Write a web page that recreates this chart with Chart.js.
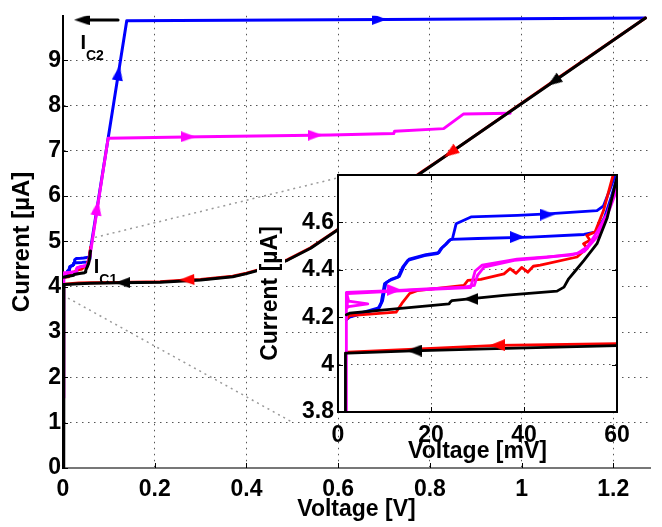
<!DOCTYPE html>
<html>
<head>
<meta charset="utf-8">
<script src="https://cdn.jsdelivr.net/npm/chart.js@4"></script>
<style>
  body { margin: 0; background: #fff; }
  #wrap { position: relative; width: 662px; height: 527px; }
  #main { position: absolute; left: 0; top: 0; }
  #inset { position: absolute; left: 240px; top: 150px; }
</style>
</head>
<body>
<div id="wrap">
  <canvas id="main" width="662" height="527"></canvas>
  <canvas id="inset" width="410" height="330"></canvas>
</div>
<script>
//---------------------------------- donnees

// graduations
const mainXTicks = [0, 0.2, 0.4, 0.6, 0.8, 1, 1.2];   // V
const mainYTicks = [0, 1, 2, 3, 4, 5, 6, 7, 8, 9];     // uA
const insetXTicks = [0, 20, 40, 60];                    // mV
const insetYTicks = [3.8, 4, 4.2, 4.4, 4.6];            // uA

// traces basse tension (mV / uA), visibles dans l'encart
const blueAmV = [1.8, 2.5, 8.6, 9.3, 10, 11.1, 12.9, 13.9, 15, 18.6, 21.4, 22.1, 22.9, 23.9, 24.6, 25.4, 28.6, 38.6, 45, 55.7, 57.1, 58.5, 60];
const blueAuA = [4.19, 4.2, 4.235, 4.263, 4.341, 4.355, 4.369, 4.411, 4.44, 4.46, 4.468, 4.489, 4.503, 4.524, 4.53, 4.594, 4.623, 4.63, 4.636, 4.65, 4.67, 4.74, 4.82];
const blueBmV = [1.8, 2.5, 8.9, 9.6, 10.3, 11.4, 13.2, 14.2, 15.3, 18.9, 21.7, 22.4, 23.2, 24.2, 30, 41.4, 52.9, 55.5, 57.3, 58.8, 60];
const blueBuA = [4.19, 4.205, 4.24, 4.27, 4.345, 4.36, 4.372, 4.415, 4.445, 4.464, 4.472, 4.493, 4.507, 4.528, 4.532, 4.538, 4.549, 4.56, 4.62, 4.71, 4.79];
const magAmV = [1.8, 1.8, 12.9, 20, 27.1, 29.3, 30, 31.4, 37.9, 45, 51.4, 53.6, 55.7, 57.9, 60];
const magAuA = [1.55, 4.305, 4.313, 4.32, 4.327, 4.334, 4.376, 4.411, 4.44, 4.453, 4.468, 4.496, 4.559, 4.637, 4.763];
const magBmV = [2.0, 2.3, 6.4, 2.3, 2.0, 2.0, 20, 28.5, 29.5, 31, 38.5, 50, 53, 56, 58.5, 60];
const magBuA = [4.29, 4.268, 4.256, 4.245, 4.24, 4.30, 4.318, 4.325, 4.395, 4.42, 4.445, 4.462, 4.478, 4.545, 4.66, 4.74];
const redUpmV = [1.8, 2.5, 12.5, 13.9, 15.4, 17, 27.1, 27.9, 30.7, 35.7, 37, 38.3, 39.5, 40.8, 42, 43.5, 51.4, 52.3, 53.6, 52.8, 54.2, 53.5, 55.3, 57.1, 59.3, 60];
const redUpuA = [4.19, 4.207, 4.221, 4.263, 4.30, 4.312, 4.334, 4.355, 4.36, 4.383, 4.405, 4.385, 4.41, 4.39, 4.415, 4.42, 4.454, 4.47, 4.49, 4.51, 4.525, 4.545, 4.56, 4.65, 4.81, 4.87];
const blkUpmV = [1.8, 2.5, 23.9, 24.1, 24.5, 35.7, 47.1, 48.6, 49.6, 51.1, 52.9, 55.7, 57.9, 60];
const blkUpuA = [4.21, 4.217, 4.256, 4.263, 4.27, 4.292, 4.31, 4.327, 4.362, 4.397, 4.44, 4.51, 4.62, 4.79];
const blkLomV = [60, 34, 16, 2.1, 1.6, 1.6];
const blkLouA = [4.080, 4.067, 4.058, 4.048, 4.048, 0];
const redLomV = [60, 34.3, 2.1, 1.7];
const redLouA = [4.088, 4.081, 4.053, 4.05];

// traces haute tension (V / uA)
const blueHiV = [0.139, 0.70, 1.27];
const blueHiuA = [9.87, 9.90, 9.93];
const magHiV = [0.0985, 0.30, 0.583, 0.721, 0.723, 0.83, 0.873, 0.975];
const magHiuA = [7.28, 7.31, 7.35, 7.38, 7.43, 7.49, 7.81, 7.83];
const blkRetV = [1.27, 1.07, 0.786, 0.597, 0.54, 0.49, 0.45, 0.40, 0.37, 0.30, 0.212, 0.12];
const blkRetuA = [9.93, 8.53, 6.55, 5.24, 4.85, 4.59, 4.43, 4.29, 4.22, 4.15, 4.10, 4.09];
const redRetV = [1.27, 1.07, 0.845, 0.786, 0.597, 0.54, 0.49, 0.45, 0.40, 0.37, 0.30, 0.27, 0.212, 0.12];
const redRetuA = [9.93, 8.54, 6.96, 6.56, 5.25, 4.86, 4.60, 4.44, 4.30, 4.23, 4.16, 4.15, 4.11, 4.095];

// fleches de sens de balayage
const arrowMainX = [0.121, 0.0744, 0.69, 0.273, 0.55, 1.07, 0.845, 0.13, 0.27];
const arrowMainY = [8.72, 5.74, 9.90, 7.31, 7.345, 8.53, 6.96, 4.09, 4.155];
const arrowMainRot = [9, 9, 90, 90, 90, 235, 235, 270, 268];
const arrowMainCol = ['b', 'm', 'b', 'm', 'm', 'k', 'r', 'k', 'r'];
const arrowInsX = [45, 38.6, 12.1, 28.6, 34.3, 16.4];
const arrowInsY = [4.633, 4.538, 4.315, 4.277, 4.082, 4.059];
const arrowInsRot = [90, 90, 90, 270, 270, 270];
const arrowInsCol = ['b', 'b', 'm', 'k', 'r', 'k'];

// annotation I_C2 (fleche) et pointilles vers l'encart
const icArrowX = [0.12, 0.0415];
const icArrowY = [9.89, 9.89];
const linkUpX = [0.07, 0.598];
const linkUpY = [5.09, 6.40];
const linkLoX = [0.011, 0.502];
const linkLoY = [3.75, 1.0];

//---------------------------------- construction

const FONT = "'Liberation Sans', Arial, Helvetica, sans-serif";
const COL = { b: '#0000ff', m: '#ff00ff', r: '#ff0000', k: '#000000' };

const pts = (xs, ys, k = 1) => xs.map((x, i) => ({ x: x * k, y: ys[i] }));

// tete de fleche (triangle allonge, pointe vers le haut)
function makeHead(color, len, wid) {
  const c = document.createElement('canvas');
  c.width = wid; c.height = len;
  const g = c.getContext('2d');
  g.fillStyle = color;
  g.beginPath();
  g.moveTo(wid / 2, 0); g.lineTo(wid, len); g.lineTo(0, len);
  g.closePath(); g.fill();
  return c;
}
const headsMain = {}, headsIns = {};
Object.keys(COL).forEach(k => {
  headsMain[k] = makeHead(COL[k], 15, 11);
  headsIns[k] = makeHead(COL[k], 15, 12);
});

function line(data, color, order, width = 3) {
  return {
    data, borderColor: color, borderWidth: width, showLine: true,
    pointRadius: 0, order, borderJoinStyle: 'round', borderCapStyle: 'round'
  };
}

function arrows(xs, ys, rots, cols, heads) {
  return {
    data: pts(xs, ys), showLine: false, order: 0,
    pointStyle: cols.map(c => heads[c]), rotation: rots, pointRadius: 6
  };
}

// graduations internes facon matlab + cadre de l'encart
const inTicks = {
  id: 'inTicks',
  afterDraw(chart, args, opts) {
    const { ctx, chartArea: a, scales: { x, y } } = chart;
    const L = opts.len || 5;
    ctx.save();
    ctx.strokeStyle = '#000';
    ctx.lineWidth = 1;
    ctx.beginPath();
    x.ticks.forEach(t => {
      const p = Math.round(x.getPixelForValue(t.value)) + 0.5;
      ctx.moveTo(p, a.bottom); ctx.lineTo(p, a.bottom - L);
      if (opts.box) { ctx.moveTo(p, a.top); ctx.lineTo(p, a.top + L); }
    });
    y.ticks.forEach(t => {
      const p = Math.round(y.getPixelForValue(t.value)) + 0.5;
      ctx.moveTo(a.left, p); ctx.lineTo(a.left + L, p);
      if (opts.box) { ctx.moveTo(a.right, p); ctx.lineTo(a.right - L, p); }
    });
    ctx.stroke();
    if (opts.box) {
      ctx.lineWidth = 2;
      ctx.strokeRect(a.left, a.top, a.right - a.left, a.bottom - a.top);
    }
    ctx.restore();
  }
};

// fond blanc de l'encart
const whiteBg = {
  id: 'whiteBg',
  beforeDraw(chart) {
    const { ctx, chartArea: a } = chart;
    ctx.save();
    ctx.fillStyle = '#fff';
    ctx.fillRect(a.left, a.top, a.right - a.left, a.bottom - a.top);
    // derriere le titre vertical
    const cy = (a.top + a.bottom) / 2;
    ctx.fillRect(17, cy - 76, 28, 152);
    ctx.restore();
  }
};

// textes I_C2 et I_C1
const icLabels = [{ x: 0.038, y: 9.245, sub: 'C2' }, { x: 0.067, y: 4.297, sub: 'C1' }];
const mainText = {
  id: 'mainText',
  afterDatasetsDraw(chart) {
    const { ctx, scales: { x, y } } = chart;
    ctx.save();
    ctx.fillStyle = '#000';
    ctx.textBaseline = 'alphabetic';
    icLabels.forEach(l => {
      const px = x.getPixelForValue(l.x), py = y.getPixelForValue(l.y);
      ctx.font = 'bold 20px ' + FONT;
      ctx.fillText('I', px, py);
      const w = ctx.measureText('I').width;
      ctx.font = 'bold 14px ' + FONT;
      ctx.fillText(l.sub, px + w, py + 11);
    });
    ctx.restore();
  }
};

function axis(min, max, tickList, fixed, title, titlePad, tickPad, gridColor) {
  return {
    type: 'linear', min, max,
    afterBuildTicks: s => { s.ticks = tickList.map(v => ({ value: v })); },
    afterFit: s => { if (s.isHorizontal()) s.height = fixed; else s.width = fixed; },
    ticks: {
      padding: tickPad, color: '#000', font: { family: FONT, size: 23, weight: 'bold' },
      callback: v => String(Math.round(v * 10) / 10)
    },
    grid: { color: gridColor, lineWidth: 1, drawTicks: false },
    border: { display: true, color: '#000', width: 2, dash: [1.5, 4.5] },
    title: { display: true, text: title, color: '#000', padding: titlePad,
             font: { family: FONT, size: 23, weight: 'bold' } }
  };
}

//---------------------------------- graphe principal

const mainX = axis(0, 1.28, mainXTicks, 59, 'Voltage [V]', { top: 0, bottom: 4 }, 8, '#555');
mainX.border.color = '#777';
const mainY = axis(0, 9.98, mainYTicks, 63, 'Current [µA]', { top: 8, bottom: 0 }, 2, '#555');
mainY.title.font.size = 24;

new Chart(document.getElementById('main'), {
  type: 'scatter',
  data: {
    datasets: [
      arrows(arrowMainX, arrowMainY, arrowMainRot, arrowMainCol, headsMain),
      { data: [{ x: 0.0415, y: 9.89 }], showLine: false, order: 0,
        pointStyle: makeHead('#000', 16, 11), rotation: 270, pointRadius: 6 },
      line(pts(icArrowX, icArrowY), '#000', 1, 3),
      line(pts(blkRetV, blkRetuA).concat(pts(blkLomV, blkLouA, 0.001)), COL.k, 1),
      line(pts(blkUpmV, blkUpuA, 0.001), COL.k, 1),
      line(pts(magAmV, magAuA, 0.001).concat(pts(magHiV, magHiuA)), COL.m, 2),
      line(pts(magBmV, magBuA, 0.001), COL.m, 2),
      line(pts(redRetV, redRetuA).concat(pts(redLomV, redLouA, 0.001)), COL.r, 3),
      line(pts(redUpmV, redUpuA, 0.001), COL.r, 3),
      line(pts(blueAmV, blueAuA, 0.001).concat(pts(blueHiV, blueHiuA)), COL.b, 4),
      line(pts(blueBmV, blueBuA, 0.001), COL.b, 4),
      Object.assign(line(pts(linkUpX, linkUpY), '#999', 9, 1.5), { borderDash: [2, 4], borderCapStyle: 'butt' }),
      Object.assign(line(pts(linkLoX, linkLoY), '#999', 9, 1.5), { borderDash: [2, 4], borderCapStyle: 'butt' })
    ]
  },
  options: {
    responsive: false, animation: false, events: [],
    layout: { padding: { left: 0, top: 8, right: 12, bottom: 0 } },
    scales: { x: mainX, y: mainY },
    plugins: { legend: { display: false }, tooltip: { enabled: false }, inTicks: { box: false, len: 5 } }
  },
  plugins: [inTicks, mainText]
});

//---------------------------------- encart (zoom basse tension)

const insX = axis(0, 60, insetXTicks, 68, 'Voltage [mV]', { top: 0, bottom: 15 }, 10, '#555');
const insY = axis(3.8, 4.8, insetYTicks, 98, 'Current [µA]', { top: 17, bottom: 0 }, 4, '#555');

const insLine = (d, c, o) => Object.assign(line(d, c, o, 2.8), { clip: 0 });

new Chart(document.getElementById('inset'), {
  type: 'scatter',
  data: {
    datasets: [
      arrows(arrowInsX, arrowInsY, arrowInsRot, arrowInsCol, headsIns),
      insLine(pts(blkLomV, blkLouA), COL.k, 1),
      insLine(pts(blkUpmV, blkUpuA), COL.k, 1),
      insLine(pts(magAmV, magAuA), COL.m, 2),
      insLine(pts(magBmV, magBuA), COL.m, 2),
      insLine(pts(redLomV, redLouA), COL.r, 3),
      insLine(pts(redUpmV, redUpuA), COL.r, 3),
      insLine(pts(blueAmV, blueAuA), COL.b, 4),
      insLine(pts(blueBmV, blueBuA), COL.b, 4)
    ]
  },
  options: {
    responsive: false, animation: false, events: [],
    layout: { padding: { left: 0, top: 25, right: 33, bottom: 0 } },
    scales: { x: insX, y: insY },
    plugins: { legend: { display: false }, tooltip: { enabled: false }, inTicks: { box: true, len: 5 } }
  },
  plugins: [whiteBg, inTicks]
});
</script>
</body>
</html>
